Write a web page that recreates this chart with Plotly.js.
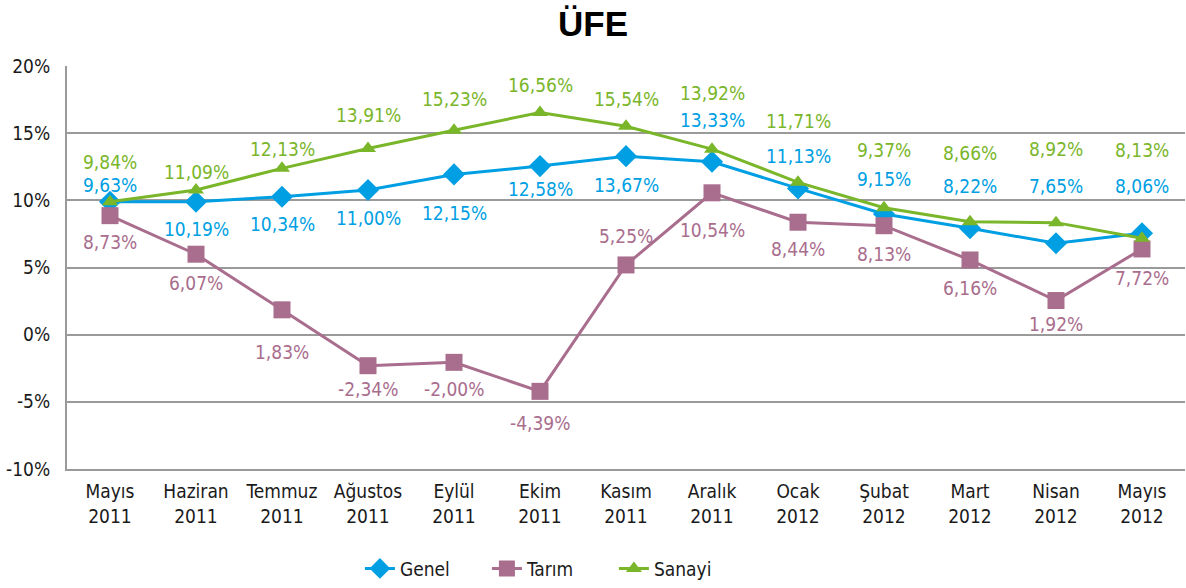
<!DOCTYPE html>
<html>
<head>
<meta charset="utf-8">
<script src="https://cdn.plot.ly/plotly-3.0.1.min.js"></script>
<style>html,body{margin:0;padding:0;background:#fff;}#chart{width:1186px;height:588px;}</style>
</head>
<body>
<div id="chart"></div>
<script>
var categories = ["Mayıs<br>2011","Haziran<br>2011","Temmuz<br>2011","Ağustos<br>2011","Eylül<br>2011","Ekim<br>2011","Kasım<br>2011","Aralık<br>2011","Ocak<br>2012","Şubat<br>2012","Mart<br>2012","Nisan<br>2012","Mayıs<br>2012"];

var genelValues  = [9.9, 9.9, 10.27, 10.77, 11.93, 12.55, 13.29, 12.87, 10.89, 8.98, 7.92, 6.80, 7.55];
var tarimValues  = [8.86, 5.99, 1.85, -2.31, -2.06, -4.22, 5.19, 10.56, 8.37, 8.11, 5.56, 2.54, 6.38];
var sanayiValues = [9.9, 10.77, 12.38, 13.86, 15.22, 16.54, 15.52, 13.81, 11.34, 9.45, 8.41, 8.34, 7.18];

var genelLabels  = ["9,63%","10,19%","10,34%","11,00%","12,15%","12,58%","13,67%","13,33%","11,13%","9,15%","8,22%","7,65%","8,06%"];
var tarimLabels  = ["8,73%","6,07%","1,83%","-2,34%","-2,00%","-4,39%","5,25%","10,54%","8,44%","8,13%","6,16%","1,92%","7,72%"];
var sanayiLabels = ["9,84%","11,09%","12,13%","13,91%","15,23%","16,56%","15,54%","13,92%","11,71%","9,37%","8,66%","8,92%","8,13%"];

var yTickValues = [-10, -5, 0, 5, 10, 15, 20];
var yTickLabels = ["-10%","-5%","0%","5%","10%","15%","20%"];

// label offsets (pixels, positive = above the point)
var genelShift  = [17, -27, -27, -28, -39, -23, -29, 42, 32, 35, 42, 57, 47];
var tarimShift  = [-26, -29, -42, -23, -27, -32, 29, -37, -27, -28, -28, -23, -29];
var sanayiShift = [40, 18, 19, 33, 31, 27, 27, 56, 61, 58, 69, 74, 88];

var FONT = "'DejaVu Sans Condensed', 'Liberation Sans Narrow', 'Arial Narrow', sans-serif";
var cBlue = "#009FE3", cMauve = "#A96D8D", cGreen = "#7AB62A";

var traces = [
  {name:"Genel", x:categories, y:genelValues, type:"scatter", mode:"lines+markers",
   line:{color:cBlue, width:3}, marker:{symbol:"diamond", size:17, color:cBlue}},
  {name:"Tarım", x:categories, y:tarimValues, type:"scatter", mode:"lines+markers",
   line:{color:cMauve, width:3}, marker:{symbol:"square", size:17, color:cMauve}},
  {name:"Sanayi", x:categories, y:sanayiValues, type:"scatter", mode:"lines+markers",
   line:{color:cGreen, width:3}, marker:{symbol:"triangle-up", size:14, color:cGreen}}
];

var annotations = [];
function addLabels(vals, labels, shifts, color){
  for (var i=0;i<categories.length;i++){
    annotations.push({x:categories[i], y:vals[i], xref:"x", yref:"y", text:labels[i],
      showarrow:false, yshift:shifts[i], font:{family:FONT, size:19, color:color}});
  }
}
addLabels(genelValues, genelLabels, genelShift, cBlue);
addLabels(tarimValues, tarimLabels, tarimShift, cMauve);
addLabels(sanayiValues, sanayiLabels, sanayiShift, cGreen);

var layout = {
  width:1186, height:588,
  margin:{l:67, r:1, t:66, b:117},
  paper_bgcolor:"#fff", plot_bgcolor:"#fff",
  title:{text:"<b>ÜFE</b>", x:0.5, xref:"container", xanchor:"center", y:0.96, yanchor:"middle",
         font:{family:"'Liberation Sans', Arial, sans-serif", size:35, color:"#000"}},
  font:{family:FONT, size:19, color:"#1a1a1a"},
  showlegend:true,
  legend:{orientation:"h", x:0.262, xanchor:"left", y:-0.247, yanchor:"middle",
          font:{family:FONT, size:19, color:"#1a1a1a"}, entrywidth:82, entrywidthmode:"pixels",
          traceorder:"normal"},
  xaxis:{type:"category", range:[-0.5, 12.5], autorange:false, showgrid:false, showline:true,
         linecolor:"#9a9a9a", linewidth:2,
         ticks:"", tickfont:{family:FONT, size:19, color:"#1a1a1a"}, ticklabelstandoff:4,
         fixedrange:true},
  yaxis:{range:[-10,20], tickvals:yTickValues, ticktext:yTickLabels, showgrid:true,
         gridcolor:"#9a9a9a", gridwidth:2, zeroline:false, showline:true, linecolor:"#9a9a9a",
         linewidth:2, ticks:"", tickfont:{family:FONT, size:19, color:"#1a1a1a"},
         ticklabelstandoff:11, fixedrange:true},
  annotations:annotations
};

Plotly.newPlot("chart", traces, layout, {displayModeBar:false, staticPlot:true});
</script>
</body>
</html>
